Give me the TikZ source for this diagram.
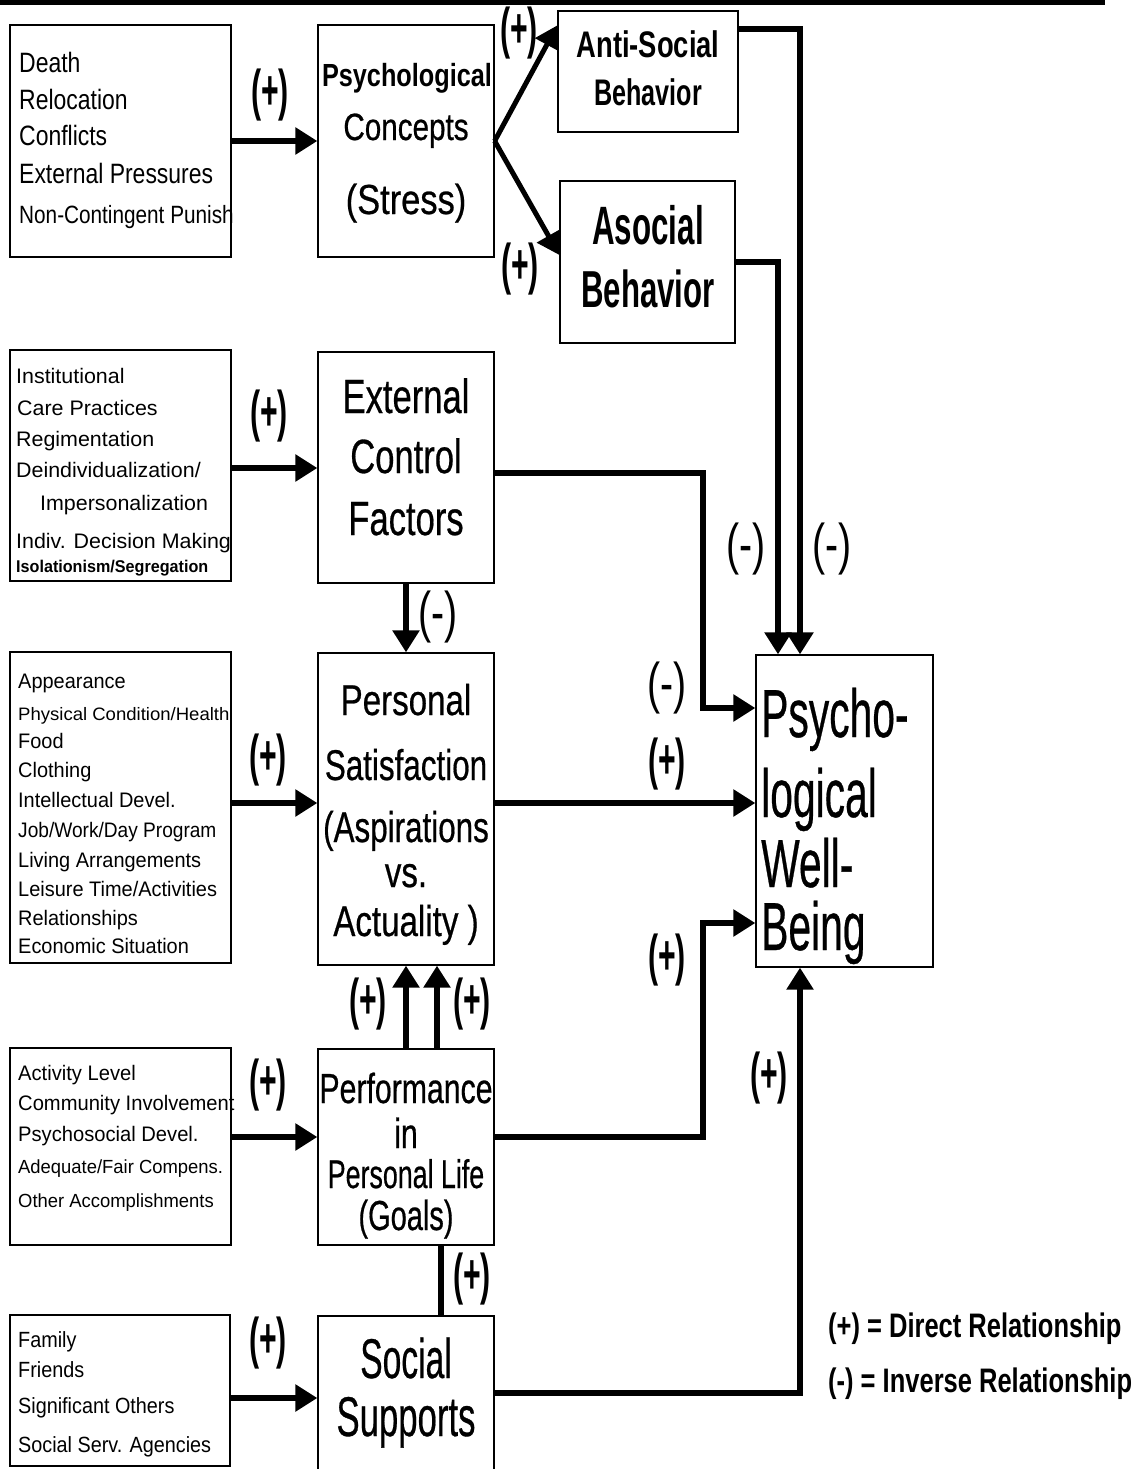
\documentclass[tikz,border=0pt]{standalone}
\usepackage{fontspec}
\usepackage{graphicx}
\setmainfont{Liberation Sans}
\newfontfamily\medfont{Liberation Sans}[FakeBold=0.6]
\usetikzlibrary{arrows.meta}
% text of a given size, squeezed horizontally
\newcommand\tr[3]{\scalebox{#2}[1]{\fontsize{#1pt}{#1pt}\selectfont #3}}
\newcommand\tm[3]{\scalebox{#2}[1]{\fontsize{#1pt}{#1pt}\selectfont\medfont #3}}
\newcommand\tb[3]{\scalebox{#2}[1]{\fontsize{#1pt}{#1pt}\selectfont\bfseries #3}}
\newcommand\plusl{\tb{56}{0.54}{(+)}}
\newcommand\minusl{\tr{56}{0.70}{(-)}}
\tikzset{
  box/.style={draw, line width=1.3pt, inner sep=0pt},
  lt/.style={anchor=base west, inner sep=0pt},
  ct/.style={anchor=base, inner sep=0pt},
  lbl/.style={inner sep=0pt},
  conn/.style={line width=6pt},
  arr/.style={conn, -{Triangle[length=22pt,width=26pt]}},
}
\begin{document}
\begin{tikzpicture}[x=1pt,y=-1pt]
\clip (0,0) rectangle (1143,1469);
\fill[white] (0,0) rectangle (1143,1469);
\draw[line width=5pt] (0,3) -- (1105,3);

% ---- boxes ----
\node[box, minimum width=221pt, minimum height=232pt] (l1) at (120.5,141) {};
\node[box, minimum width=221pt, minimum height=231pt] (l2) at (120.5,465.5) {};
\node[box, minimum width=221pt, minimum height=311pt] (l3) at (120.5,807.5) {};
\node[box, minimum width=221pt, minimum height=197pt] (l4) at (120.5,1146.5) {};
\node[box, minimum width=220pt, minimum height=151pt] (l5) at (120,1390.5) {};
\node[box, minimum width=176pt, minimum height=232pt] (m1) at (406,141) {};
\node[box, minimum width=176pt, minimum height=231pt] (m2) at (406,467.5) {};
\node[box, minimum width=176pt, minimum height=312pt] (m3) at (406,809) {};
\node[box, minimum width=176pt, minimum height=196pt] (m4) at (406,1147) {};
\node[box, minimum width=176pt, minimum height=158pt] (m5) at (406,1395) {};
\node[box, minimum width=180pt, minimum height=121pt] (as) at (648,71.5) {};
\node[box, minimum width=175pt, minimum height=162pt] (ab) at (647.5,262) {};
\node[box, minimum width=177pt, minimum height=312pt] (pw) at (844.5,811) {};

% ---- left lists ----
\node[lt] (t11) at (19,73)  {\tr{28}{0.82}{Death}};
\node[lt] (t12) at (19,110) {\tr{28}{0.82}{Relocation}};
\node[lt] (t13) at (19,146) {\tr{28}{0.82}{Conflicts}};
\node[lt] (t14) at (19,183) {\tr{28}{0.82}{External Pressures}};
\node[lt] (t15) at (19,223) {\tr{25}{0.83}{Non-Contingent Punish}};

\node[lt] (t21) at (16,383) {\tr{21}{1.02}{Institutional}};
\node[lt] (t22) at (17,415) {\tr{21}{1.02}{Care Practices}};
\node[lt] (t23) at (16,446) {\tr{21}{1.02}{Regimentation}};
\node[lt] (t24) at (16,477) {\tr{21}{1.02}{Deindividualization/}};
\node[lt] (t25) at (40,510) {\tr{21}{1.02}{Impersonalization}};
\node[lt] (t26) at (16,548) {\tr{21}{1.02}{Indiv. Decision Making}};
\node[lt] (t27) at (16,572) {\tb{17}{0.95}{Isolationism/Segregation}};

\node[lt] (t31) at (18,688) {\tr{21}{0.95}{Appearance}};
\node[lt] (t32) at (18,720) {\tr{18}{1.03}{Physical Condition/Health}};
\node[lt] (t33) at (18,748) {\tr{21}{0.95}{Food}};
\node[lt] (t34) at (18,777) {\tr{21}{0.95}{Clothing}};
\node[lt] (t35) at (18,807) {\tr{21}{0.95}{Intellectual Devel.}};
\node[lt] (t36) at (18,837) {\tr{21}{0.91}{Job/Work/Day Program}};
\node[lt] (t37) at (18,867) {\tr{21}{0.95}{Living Arrangements}};
\node[lt] (t38) at (18,896) {\tr{21}{0.95}{Leisure Time/Activities}};
\node[lt] (t39) at (18,925) {\tr{21}{0.95}{Relationships}};
\node[lt] (t310) at (18,953) {\tr{21}{0.95}{Economic Situation}};

\node[lt] (t41) at (18,1080) {\tr{21}{0.96}{Activity Level}};
\node[lt] (t42) at (18,1110) {\tr{21}{0.96}{Community Involvement}};
\node[lt] (t43) at (18,1141) {\tr{21}{0.96}{Psychosocial Devel.}};
\node[lt] (t44) at (18,1173) {\tr{19}{0.97}{Adequate/Fair Compens.}};
\node[lt] (t45) at (18,1207) {\tr{19}{0.97}{Other Accomplishments}};

\node[lt] (t51) at (18,1347) {\tr{22}{0.9}{Family}};
\node[lt] (t52) at (18,1377) {\tr{22}{0.9}{Friends}};
\node[lt] (t53) at (18,1413) {\tr{22}{0.9}{Significant Others}};
\node[lt] (t54) at (18,1452) {\tr{22}{0.9}{Social Serv. Agencies}};

% ---- middle column ----
\node[ct] (s11) at (407,87)  {\tb{32}{0.79}{Psychological}};
\node[ct] (s12) at (406,140) {\tm{38}{0.78}{Concepts}};
\node[ct] (s13) at (406,214) {\tm{42}{0.82}{(Stress)}};

\node[ct] (s21) at (406,413) {\tm{48}{0.72}{External}};
\node[ct] (s22) at (406,473) {\tm{48}{0.72}{Control}};
\node[ct] (s23) at (406,535) {\tm{48}{0.72}{Factors}};

\node[ct] (s31) at (406,715) {\tm{43}{0.77}{Personal}};
\node[ct] (s32) at (406,780) {\tm{43}{0.73}{Satisfaction}};
\node[ct] (s33) at (406,842) {\tm{43}{0.73}{(Aspirations}};
\node[ct] (s34) at (406,887) {\tm{43}{0.77}{vs.}};
\node[ct] (s35) at (406,936) {\tm{43}{0.77}{Actuality )}};

\node[ct] (s41) at (406,1103) {\tm{42}{0.72}{Performance}};
\node[ct] (s42) at (406,1148) {\tm{42}{0.72}{in}};
\node[ct] (s43) at (406,1188) {\tm{40}{0.67}{Personal Life}};
\node[ct] (s44) at (406,1230) {\tm{42}{0.69}{(Goals)}};

\node[ct] (s51) at (406,1378) {\tm{56}{0.6}{Social}};
\node[ct] (s52) at (406,1436) {\tm{56}{0.62}{Supports}};

% ---- behaviour boxes ----
\node[ct] (b11) at (648,58)  {\tb{37}{0.74}{Anti-Social}};
\node[ct] (b12) at (648,106) {\tb{37}{0.68}{Behavior}};
\node[ct] (b21) at (648,244) {\tb{54}{0.58}{Asocial}};
\node[ct] (b22) at (648,307) {\tb{52}{0.6}{Behavior}};

% ---- outcome box ----
\node[lt] (w1) at (761,737) {\tm{68}{0.6}{Psycho-}};
\node[lt] (w2) at (761,817) {\tm{68}{0.6}{logical}};
\node[lt] (w3) at (761,887) {\tm{68}{0.6}{Well-}};
\node[lt] (w4) at (761,950) {\tm{68}{0.6}{Being}};

% ---- levels of the horizontal connectors ----
\coordinate (y2) at (0,468);
\coordinate (y3) at (0,803);
\coordinate (y4) at (0,1137);
\coordinate (y5) at (0,1398);
\coordinate (y6) at (0,1393);
\coordinate (ya) at (0,708);
\coordinate (yb) at (0,923);

% ---- connectors ----
\draw[arr] (l1) -- (m1);
\draw[arr, line width=5pt] (m1.east) -- ([yshift=-15pt]as.north west);
\draw[arr, line width=5pt] (m1.east) -- ([yshift=7pt]ab.west);
\draw[arr] ([yshift=-19pt]as.north east) -| ([xshift=-44.5pt]pw.north);
\draw[arr] (ab.east) -| ([xshift=-66.5pt]pw.north);
\draw[arr] (l2.east |- y2) -- (m2.west |- y2);
\draw[arr] ([yshift=-5pt]m2.east) -- ++(208pt,0pt) |- (pw.west |- ya);
\draw[arr] (m2) -- (m3);
\draw[arr] (l3.east |- y3) -- (m3.west |- y3);
\draw[arr] (m3.east |- y3) -- (pw.west |- y3);
\draw[arr] (l4.east |- y4) -- (m4.west |- y4);
\draw[arr] (m4.east |- y4) -- ++(208pt,0pt) |- (pw.west |- yb);
\draw[arr] (m4) -- (m3);
\draw[arr] ([xshift=31pt]m4.north) -- ([xshift=31pt]m3.south);
\draw[conn] ([xshift=35pt]m5.north) -- ([xshift=35pt]m4.south);
\draw[arr] (l5.east |- y5) -- (m5.west |- y5);
\draw[arr] (m5.east |- y6) -| ([xshift=-44.5pt]pw.south);

% ---- signs on the connectors ----
\node[lbl] (p1)  at (270,95)   {\plusl};
\node[lbl] (p2)  at (519,33)   {\plusl};
\node[lbl] (p3)  at (520,269)  {\plusl};
\node[lbl] (p4)  at (269,416)  {\plusl};
\node[lbl] (n1)  at (438,617)  {\minusl};
\node[lbl] (n2)  at (746,549)  {\minusl};
\node[lbl] (n3)  at (832,549)  {\minusl};
\node[lbl] (n4)  at (667,688)  {\minusl};
\node[lbl] (p5)  at (268,760)  {\plusl};
\node[lbl] (p6)  at (667,764)  {\plusl};
\node[lbl] (p7)  at (667,960)  {\plusl};
\node[lbl] (p8)  at (368,1004) {\plusl};
\node[lbl] (p9)  at (472,1004) {\plusl};
\node[lbl] (p10) at (268,1085) {\plusl};
\node[lbl] (p11) at (769,1078) {\plusl};
\node[lbl] (p12) at (472,1279) {\plusl};
\node[lbl] (p13) at (268,1343) {\plusl};

% ---- key ----
\node[lt] (k1) at (828,1337) {\tb{34}{0.75}{(+) = Direct Relationship}};
\node[lt] (k2) at (828,1392) {\tb{34}{0.75}{(-) = Inverse Relationship}};
\end{tikzpicture}
\end{document}
